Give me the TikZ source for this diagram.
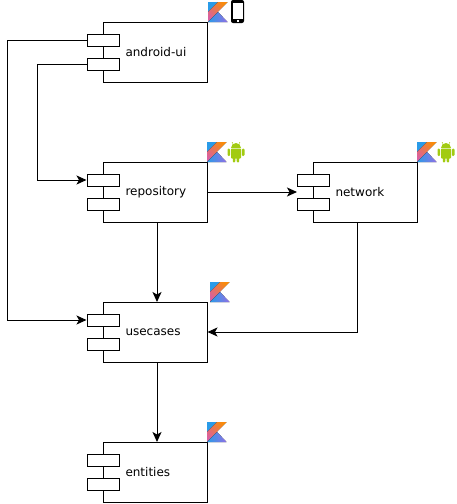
\documentclass[tikz,border=0pt]{standalone}
\usepackage{fontspec}
\setmainfont{DejaVu Sans}
\usetikzlibrary{arrows.meta}
\definecolor{kblue}{HTML}{2A9BE8}
\definecolor{korange}{HTML}{F88A0C}
\definecolor{kpink}{HTML}{D9609F}
\definecolor{kviolet}{HTML}{9070E4}
\definecolor{droid}{HTML}{A2CB12}

\begin{document}
\begin{tikzpicture}[x=1pt, y=-1pt, line width=1pt,
    main/.style = {draw, fill=white, minimum width=104pt, minimum height=60pt, inner sep=0pt},
    port/.style = {draw, fill=white, minimum width=32pt, minimum height=12pt, inner sep=0pt},
    title/.style = {anchor=west, inner sep=0pt, font=\fontsize{12pt}{14pt}\selectfont},
    flow/.style = {-{Stealth[length=10pt, width=9pt, inset=2.5pt]}},
    kotlin/.pic = {
        \fill[kblue] (0,0) -- (10,0) -- (0,10) -- cycle;
        \fill[bottom color=kpink, top color=korange, shading angle=-45] (10,0) -- (19.5,0) -- (0,20) -- (0,10) -- cycle;
        \fill[left color=kblue, right color=kviolet] (0,20) -- (10,10) -- (19.5,20) -- cycle;
    },
    android/.pic = {
        \fill[droid] (4,5.5) arc[start angle=180, end angle=360, x radius=5, y radius=5] -- cycle;
        \draw[droid, line width=0.6pt] (6,1) -- (5,-0.3) (12,1) -- (13,-0.3);
        \fill[droid, rounded corners=0.8pt] (4,6) rectangle (14,16);
        \fill[droid, rounded corners=1.2pt] (0.5,6) rectangle (3.2,13.5);
        \fill[droid, rounded corners=1.2pt] (14.8,6) rectangle (17.5,13.5);
        \fill[droid, rounded corners=1.2pt] (5.8,14) rectangle (8.4,20);
        \fill[droid, rounded corners=1.2pt] (9.6,14) rectangle (12.2,20);
    },
    phone/.pic = {
        \fill[black, rounded corners=2pt] (0,0) rectangle (13,23);
        \fill[white] (1.5,2.5) rectangle (11.5,19);
        \fill[white] (5.5,20.2) rectangle (7.5,21.8);
    }]

    \node[main] (android) at (155,52.5) {};
    \node[port] (androidA) at (103,40) {};
    \node[port] (androidB) at (103,64) {};
    \node[title] (androidname) at (125,52) {android-ui};

    \node[main] (repository) at (155,192) {};
    \node[port] (repositoryA) at (103,180) {};
    \node[port] (repositoryB) at (103,204) {};
    \node[title] (repositoryname) at (125,192) {repository};

    \node[main] (network) at (365,192) {};
    \node[port] (networkA) at (313,180) {};
    \node[port] (networkB) at (313,204) {};
    \node[title] (networkname) at (335,192) {network};

    \node[main] (usecases) at (155,332) {};
    \node[port] (usecasesA) at (103,320) {};
    \node[port] (usecasesB) at (103,344) {};
    \node[title] (usecasesname) at (125,332) {usecases};

    \node[main] (entities) at (155,472) {};
    \node[port] (entitiesA) at (103,460) {};
    \node[port] (entitiesB) at (103,484) {};
    \node[title] (entitiesname) at (125,472) {entities};

    \coordinate (railA) at (7,40);
    \coordinate (railB) at (37,64);
    \coordinate (networkin) at (297,192);
    \coordinate (networkout) at (357,222);
    \coordinate (repositoryout) at (157,222);
    \coordinate (usecasesin) at (157,302);
    \coordinate (usecasesout) at (157,362);
    \coordinate (entitiesin) at (157,442);

\draw[flow] (androidA.west) -- (railA) |- (usecasesA.west);
\draw[flow] (androidB.west) -- (railB) |- (repositoryA.west);
\draw[flow] (repository.east) -- (networkin);
\draw[flow] (repositoryout) -- (usecasesin);
\draw[flow] (networkout) |- (usecases.east);
\draw[flow] (usecasesout) -- (entitiesin);

    \pic at (208,2) {kotlin};
    \pic at (231,0) {phone};
    \pic at (207,142) {kotlin};
    \pic at (227,142.5) {android};
    \pic at (417,142) {kotlin};
    \pic at (437,142.5) {android};
    \pic at (210,282) {kotlin};
    \pic at (207,422) {kotlin};

    \useasboundingbox (0,0) rectangle (457,504);
\end{tikzpicture}
\end{document}
